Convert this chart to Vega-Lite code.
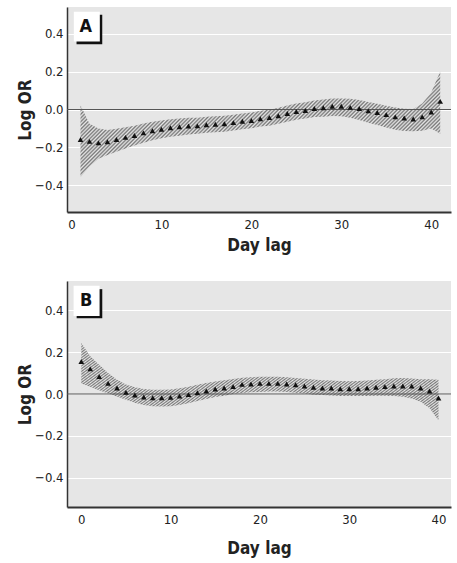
{
  "$schema": "https://vega.github.io/schema/vega-lite/v6.json",
  "background": "white",
  "padding": {"left": 16, "top": 7, "right": 6, "bottom": 6},
  "config": {
    "font": "DejaVu Sans Condensed, sans-serif",
    "view": {"fill": "#e6e6e6", "stroke": null},
    "axis": {"labelFontSize": 13, "labelColor": "#222", "titleFontSize": 17, "titleFontWeight": "bold", "titleColor": "#222", "ticks": false, "domainColor": "#333"},
    "axisX": {"grid": false, "domainWidth": 2, "labelPadding": 6, "titlePadding": 6},
    "axisY": {"grid": true, "gridColor": "white", "gridWidth": 1.2, "domainWidth": 1.5, "labelPadding": 4, "titlePadding": 0},
    "concat": {"spacing": 28},
    "mark": {
      "color": {
          "gradient": "linear", "x1": 0, "y1": 0, "x2": 1.19, "y2": 0.347,
          "stops": [
            {"offset":0,"color":"#e6e6e6"},{"offset":0.004,"color":"#777"},{"offset":0.008,"color":"#e6e6e6"},{"offset":0.012,"color":"#777"},{"offset":0.016,"color":"#e6e6e6"},{"offset":0.02,"color":"#777"},{"offset":0.024,"color":"#e6e6e6"},{"offset":0.028,"color":"#777"},{"offset":0.032,"color":"#e6e6e6"},{"offset":0.036,"color":"#777"},{"offset":0.04,"color":"#e6e6e6"},{"offset":0.044,"color":"#777"},{"offset":0.048,"color":"#e6e6e6"},{"offset":0.052,"color":"#777"},{"offset":0.056,"color":"#e6e6e6"},{"offset":0.06,"color":"#777"},{"offset":0.064,"color":"#e6e6e6"},{"offset":0.068,"color":"#777"},{"offset":0.072,"color":"#e6e6e6"},{"offset":0.076,"color":"#777"},{"offset":0.08,"color":"#e6e6e6"},{"offset":0.084,"color":"#777"},{"offset":0.088,"color":"#e6e6e6"},{"offset":0.092,"color":"#777"},{"offset":0.096,"color":"#e6e6e6"},
            {"offset":0.1,"color":"#777"},{"offset":0.104,"color":"#e6e6e6"},{"offset":0.108,"color":"#777"},{"offset":0.112,"color":"#e6e6e6"},{"offset":0.116,"color":"#777"},{"offset":0.12,"color":"#e6e6e6"},{"offset":0.124,"color":"#777"},{"offset":0.128,"color":"#e6e6e6"},{"offset":0.132,"color":"#777"},{"offset":0.136,"color":"#e6e6e6"},{"offset":0.14,"color":"#777"},{"offset":0.144,"color":"#e6e6e6"},{"offset":0.148,"color":"#777"},{"offset":0.152,"color":"#e6e6e6"},{"offset":0.156,"color":"#777"},{"offset":0.16,"color":"#e6e6e6"},{"offset":0.164,"color":"#777"},{"offset":0.168,"color":"#e6e6e6"},{"offset":0.172,"color":"#777"},{"offset":0.176,"color":"#e6e6e6"},{"offset":0.18,"color":"#777"},{"offset":0.184,"color":"#e6e6e6"},{"offset":0.188,"color":"#777"},{"offset":0.192,"color":"#e6e6e6"},{"offset":0.196,"color":"#777"},
            {"offset":0.2,"color":"#e6e6e6"},{"offset":0.204,"color":"#777"},{"offset":0.208,"color":"#e6e6e6"},{"offset":0.212,"color":"#777"},{"offset":0.216,"color":"#e6e6e6"},{"offset":0.22,"color":"#777"},{"offset":0.224,"color":"#e6e6e6"},{"offset":0.228,"color":"#777"},{"offset":0.232,"color":"#e6e6e6"},{"offset":0.236,"color":"#777"},{"offset":0.24,"color":"#e6e6e6"},{"offset":0.244,"color":"#777"},{"offset":0.248,"color":"#e6e6e6"},{"offset":0.252,"color":"#777"},{"offset":0.256,"color":"#e6e6e6"},{"offset":0.26,"color":"#777"},{"offset":0.264,"color":"#e6e6e6"},{"offset":0.268,"color":"#777"},{"offset":0.272,"color":"#e6e6e6"},{"offset":0.276,"color":"#777"},{"offset":0.28,"color":"#e6e6e6"},{"offset":0.284,"color":"#777"},{"offset":0.288,"color":"#e6e6e6"},{"offset":0.292,"color":"#777"},{"offset":0.296,"color":"#e6e6e6"},
            {"offset":0.3,"color":"#777"},{"offset":0.304,"color":"#e6e6e6"},{"offset":0.308,"color":"#777"},{"offset":0.312,"color":"#e6e6e6"},{"offset":0.316,"color":"#777"},{"offset":0.32,"color":"#e6e6e6"},{"offset":0.324,"color":"#777"},{"offset":0.328,"color":"#e6e6e6"},{"offset":0.332,"color":"#777"},{"offset":0.336,"color":"#e6e6e6"},{"offset":0.34,"color":"#777"},{"offset":0.344,"color":"#e6e6e6"},{"offset":0.348,"color":"#777"},{"offset":0.352,"color":"#e6e6e6"},{"offset":0.356,"color":"#777"},{"offset":0.36,"color":"#e6e6e6"},{"offset":0.364,"color":"#777"},{"offset":0.368,"color":"#e6e6e6"},{"offset":0.372,"color":"#777"},{"offset":0.376,"color":"#e6e6e6"},{"offset":0.38,"color":"#777"},{"offset":0.384,"color":"#e6e6e6"},{"offset":0.388,"color":"#777"},{"offset":0.392,"color":"#e6e6e6"},{"offset":0.396,"color":"#777"},
            {"offset":0.4,"color":"#e6e6e6"},{"offset":0.404,"color":"#777"},{"offset":0.408,"color":"#e6e6e6"},{"offset":0.412,"color":"#777"},{"offset":0.416,"color":"#e6e6e6"},{"offset":0.42,"color":"#777"},{"offset":0.424,"color":"#e6e6e6"},{"offset":0.428,"color":"#777"},{"offset":0.432,"color":"#e6e6e6"},{"offset":0.436,"color":"#777"},{"offset":0.44,"color":"#e6e6e6"},{"offset":0.444,"color":"#777"},{"offset":0.448,"color":"#e6e6e6"},{"offset":0.452,"color":"#777"},{"offset":0.456,"color":"#e6e6e6"},{"offset":0.46,"color":"#777"},{"offset":0.464,"color":"#e6e6e6"},{"offset":0.468,"color":"#777"},{"offset":0.472,"color":"#e6e6e6"},{"offset":0.476,"color":"#777"},{"offset":0.48,"color":"#e6e6e6"},{"offset":0.484,"color":"#777"},{"offset":0.488,"color":"#e6e6e6"},{"offset":0.492,"color":"#777"},{"offset":0.496,"color":"#e6e6e6"},
            {"offset":0.5,"color":"#777"},{"offset":0.504,"color":"#e6e6e6"},{"offset":0.508,"color":"#777"},{"offset":0.512,"color":"#e6e6e6"},{"offset":0.516,"color":"#777"},{"offset":0.52,"color":"#e6e6e6"},{"offset":0.524,"color":"#777"},{"offset":0.528,"color":"#e6e6e6"},{"offset":0.532,"color":"#777"},{"offset":0.536,"color":"#e6e6e6"},{"offset":0.54,"color":"#777"},{"offset":0.544,"color":"#e6e6e6"},{"offset":0.548,"color":"#777"},{"offset":0.552,"color":"#e6e6e6"},{"offset":0.556,"color":"#777"},{"offset":0.56,"color":"#e6e6e6"},{"offset":0.564,"color":"#777"},{"offset":0.568,"color":"#e6e6e6"},{"offset":0.572,"color":"#777"},{"offset":0.576,"color":"#e6e6e6"},{"offset":0.58,"color":"#777"},{"offset":0.584,"color":"#e6e6e6"},{"offset":0.588,"color":"#777"},{"offset":0.592,"color":"#e6e6e6"},{"offset":0.596,"color":"#777"},
            {"offset":0.6,"color":"#e6e6e6"},{"offset":0.604,"color":"#777"},{"offset":0.608,"color":"#e6e6e6"},{"offset":0.612,"color":"#777"},{"offset":0.616,"color":"#e6e6e6"},{"offset":0.62,"color":"#777"},{"offset":0.624,"color":"#e6e6e6"},{"offset":0.628,"color":"#777"},{"offset":0.632,"color":"#e6e6e6"},{"offset":0.636,"color":"#777"},{"offset":0.64,"color":"#e6e6e6"},{"offset":0.644,"color":"#777"},{"offset":0.648,"color":"#e6e6e6"},{"offset":0.652,"color":"#777"},{"offset":0.656,"color":"#e6e6e6"},{"offset":0.66,"color":"#777"},{"offset":0.664,"color":"#e6e6e6"},{"offset":0.668,"color":"#777"},{"offset":0.672,"color":"#e6e6e6"},{"offset":0.676,"color":"#777"},{"offset":0.68,"color":"#e6e6e6"},{"offset":0.684,"color":"#777"},{"offset":0.688,"color":"#e6e6e6"},{"offset":0.692,"color":"#777"},{"offset":0.696,"color":"#e6e6e6"},
            {"offset":0.7,"color":"#777"},{"offset":0.704,"color":"#e6e6e6"},{"offset":0.708,"color":"#777"},{"offset":0.712,"color":"#e6e6e6"},{"offset":0.716,"color":"#777"},{"offset":0.72,"color":"#e6e6e6"},{"offset":0.724,"color":"#777"},{"offset":0.728,"color":"#e6e6e6"},{"offset":0.732,"color":"#777"},{"offset":0.736,"color":"#e6e6e6"},{"offset":0.74,"color":"#777"},{"offset":0.744,"color":"#e6e6e6"},{"offset":0.748,"color":"#777"},{"offset":0.752,"color":"#e6e6e6"},{"offset":0.756,"color":"#777"},{"offset":0.76,"color":"#e6e6e6"},{"offset":0.764,"color":"#777"},{"offset":0.768,"color":"#e6e6e6"},{"offset":0.772,"color":"#777"},{"offset":0.776,"color":"#e6e6e6"},{"offset":0.78,"color":"#777"},{"offset":0.784,"color":"#e6e6e6"},{"offset":0.788,"color":"#777"},{"offset":0.792,"color":"#e6e6e6"},{"offset":0.796,"color":"#777"},
            {"offset":0.8,"color":"#e6e6e6"},{"offset":0.804,"color":"#777"},{"offset":0.808,"color":"#e6e6e6"},{"offset":0.812,"color":"#777"},{"offset":0.816,"color":"#e6e6e6"},{"offset":0.82,"color":"#777"},{"offset":0.824,"color":"#e6e6e6"},{"offset":0.828,"color":"#777"},{"offset":0.832,"color":"#e6e6e6"},{"offset":0.836,"color":"#777"},{"offset":0.84,"color":"#e6e6e6"},{"offset":0.844,"color":"#777"},{"offset":0.848,"color":"#e6e6e6"},{"offset":0.852,"color":"#777"},{"offset":0.856,"color":"#e6e6e6"},{"offset":0.86,"color":"#777"},{"offset":0.864,"color":"#e6e6e6"},{"offset":0.868,"color":"#777"},{"offset":0.872,"color":"#e6e6e6"},{"offset":0.876,"color":"#777"},{"offset":0.88,"color":"#e6e6e6"},{"offset":0.884,"color":"#777"},{"offset":0.888,"color":"#e6e6e6"},{"offset":0.892,"color":"#777"},{"offset":0.896,"color":"#e6e6e6"},
            {"offset":0.9,"color":"#777"},{"offset":0.904,"color":"#e6e6e6"},{"offset":0.908,"color":"#777"},{"offset":0.912,"color":"#e6e6e6"},{"offset":0.916,"color":"#777"},{"offset":0.92,"color":"#e6e6e6"},{"offset":0.924,"color":"#777"},{"offset":0.928,"color":"#e6e6e6"},{"offset":0.932,"color":"#777"},{"offset":0.936,"color":"#e6e6e6"},{"offset":0.94,"color":"#777"},{"offset":0.944,"color":"#e6e6e6"},{"offset":0.948,"color":"#777"},{"offset":0.952,"color":"#e6e6e6"},{"offset":0.956,"color":"#777"},{"offset":0.96,"color":"#e6e6e6"},{"offset":0.964,"color":"#777"},{"offset":0.968,"color":"#e6e6e6"},{"offset":0.972,"color":"#777"},{"offset":0.976,"color":"#e6e6e6"},{"offset":0.98,"color":"#777"},{"offset":0.984,"color":"#e6e6e6"},{"offset":0.988,"color":"#777"},{"offset":0.992,"color":"#e6e6e6"},{"offset":0.996,"color":"#777"},
            {"offset":1,"color":"#e6e6e6"}
          ]
      }
    }
  },
  "datasets": {
    "a": [
      {"day": 1, "est": -0.158, "lo": -0.355, "hi": 0.022},
      {"day": 2, "est": -0.168, "lo": -0.3, "hi": -0.075},
      {"day": 3, "est": -0.176, "lo": -0.26, "hi": -0.1},
      {"day": 4, "est": -0.17, "lo": -0.24, "hi": -0.108},
      {"day": 5, "est": -0.158, "lo": -0.222, "hi": -0.102},
      {"day": 6, "est": -0.147, "lo": -0.205, "hi": -0.094},
      {"day": 7, "est": -0.137, "lo": -0.19, "hi": -0.086},
      {"day": 8, "est": -0.123, "lo": -0.175, "hi": -0.074},
      {"day": 9, "est": -0.112, "lo": -0.162, "hi": -0.064},
      {"day": 10, "est": -0.104, "lo": -0.152, "hi": -0.058},
      {"day": 11, "est": -0.096, "lo": -0.144, "hi": -0.052},
      {"day": 12, "est": -0.091, "lo": -0.138, "hi": -0.047},
      {"day": 13, "est": -0.087, "lo": -0.132, "hi": -0.044},
      {"day": 14, "est": -0.086, "lo": -0.128, "hi": -0.043},
      {"day": 15, "est": -0.08, "lo": -0.122, "hi": -0.038},
      {"day": 16, "est": -0.078, "lo": -0.12, "hi": -0.036},
      {"day": 17, "est": -0.075, "lo": -0.117, "hi": -0.033},
      {"day": 18, "est": -0.069, "lo": -0.111, "hi": -0.027},
      {"day": 19, "est": -0.062, "lo": -0.104, "hi": -0.021},
      {"day": 20, "est": -0.058, "lo": -0.099, "hi": -0.016},
      {"day": 21, "est": -0.049, "lo": -0.09, "hi": -0.007},
      {"day": 22, "est": -0.043, "lo": -0.085, "hi": -0.001},
      {"day": 23, "est": -0.033, "lo": -0.075, "hi": 0.009},
      {"day": 24, "est": -0.021, "lo": -0.064, "hi": 0.021},
      {"day": 25, "est": -0.011, "lo": -0.054, "hi": 0.031},
      {"day": 26, "est": -0.005, "lo": -0.048, "hi": 0.038},
      {"day": 27, "est": 0.005, "lo": -0.04, "hi": 0.048},
      {"day": 28, "est": 0.009, "lo": -0.038, "hi": 0.053},
      {"day": 29, "est": 0.017, "lo": -0.034, "hi": 0.058},
      {"day": 30, "est": 0.017, "lo": -0.035, "hi": 0.058},
      {"day": 31, "est": 0.011, "lo": -0.044, "hi": 0.056},
      {"day": 32, "est": 0.005, "lo": -0.055, "hi": 0.05},
      {"day": 33, "est": -0.007, "lo": -0.07, "hi": 0.04},
      {"day": 34, "est": -0.016, "lo": -0.082, "hi": 0.03},
      {"day": 35, "est": -0.027, "lo": -0.095, "hi": 0.02},
      {"day": 36, "est": -0.039, "lo": -0.107, "hi": 0.01},
      {"day": 37, "est": -0.045, "lo": -0.113, "hi": 0.004},
      {"day": 38, "est": -0.05, "lo": -0.115, "hi": 0.002},
      {"day": 39, "est": -0.039, "lo": -0.112, "hi": 0.032},
      {"day": 40, "est": -0.013, "lo": -0.1, "hi": 0.09},
      {"day": 41, "est": 0.043, "lo": -0.128, "hi": 0.2}
    ],
    "b": [
      {"day": 0, "est": 0.155, "lo": 0.05, "hi": 0.245},
      {"day": 1, "est": 0.12, "lo": 0.035, "hi": 0.18},
      {"day": 2, "est": 0.083, "lo": 0.018, "hi": 0.14},
      {"day": 3, "est": 0.051, "lo": 0.002, "hi": 0.1},
      {"day": 4, "est": 0.029, "lo": -0.012, "hi": 0.068},
      {"day": 5, "est": 0.008, "lo": -0.028, "hi": 0.045},
      {"day": 6, "est": -0.005, "lo": -0.042, "hi": 0.032},
      {"day": 7, "est": -0.014, "lo": -0.052, "hi": 0.024},
      {"day": 8, "est": -0.018, "lo": -0.058, "hi": 0.02},
      {"day": 9, "est": -0.018, "lo": -0.06, "hi": 0.02},
      {"day": 10, "est": -0.016, "lo": -0.058, "hi": 0.022},
      {"day": 11, "est": -0.01, "lo": -0.052, "hi": 0.028},
      {"day": 12, "est": -0.003, "lo": -0.044, "hi": 0.035},
      {"day": 13, "est": 0.006, "lo": -0.034, "hi": 0.044},
      {"day": 14, "est": 0.014, "lo": -0.024, "hi": 0.052},
      {"day": 15, "est": 0.024, "lo": -0.014, "hi": 0.06},
      {"day": 16, "est": 0.029, "lo": -0.008, "hi": 0.066},
      {"day": 17, "est": 0.035, "lo": 0.0, "hi": 0.072},
      {"day": 18, "est": 0.046, "lo": 0.005, "hi": 0.078},
      {"day": 19, "est": 0.048, "lo": 0.008, "hi": 0.08},
      {"day": 20, "est": 0.051, "lo": 0.01, "hi": 0.083},
      {"day": 21, "est": 0.051, "lo": 0.012, "hi": 0.083},
      {"day": 22, "est": 0.051, "lo": 0.012, "hi": 0.082},
      {"day": 23, "est": 0.048, "lo": 0.01, "hi": 0.08},
      {"day": 24, "est": 0.044, "lo": 0.006, "hi": 0.077},
      {"day": 25, "est": 0.038, "lo": 0.002, "hi": 0.073},
      {"day": 26, "est": 0.032, "lo": -0.003, "hi": 0.069},
      {"day": 27, "est": 0.029, "lo": -0.005, "hi": 0.066},
      {"day": 28, "est": 0.029, "lo": -0.007, "hi": 0.064},
      {"day": 29, "est": 0.025, "lo": -0.009, "hi": 0.062},
      {"day": 30, "est": 0.025, "lo": -0.01, "hi": 0.061},
      {"day": 31, "est": 0.025, "lo": -0.01, "hi": 0.062},
      {"day": 32, "est": 0.029, "lo": -0.009, "hi": 0.064},
      {"day": 33, "est": 0.032, "lo": -0.008, "hi": 0.068},
      {"day": 34, "est": 0.035, "lo": -0.008, "hi": 0.071},
      {"day": 35, "est": 0.038, "lo": -0.01, "hi": 0.075},
      {"day": 36, "est": 0.038, "lo": -0.013, "hi": 0.076},
      {"day": 37, "est": 0.038, "lo": -0.021, "hi": 0.074},
      {"day": 38, "est": 0.029, "lo": -0.037, "hi": 0.07},
      {"day": 39, "est": 0.014, "lo": -0.068, "hi": 0.07},
      {"day": 40, "est": -0.019, "lo": -0.125, "hi": 0.068}
    ]
  },
  "vconcat": [
    {
      "width": 384,
      "height": 205,
      "layer": [
        {
          "data": {"name": "a"},
          "mark": {"type": "area", "opacity": 1},
          "encoding": {
            "x": {"field": "day", "type": "quantitative", "scale": {"domain": [-0.5, 42.2], "nice": false, "zero": false}, "axis": {"values": [0, 10, 20, 30, 40], "title": "Day lag"}},
            "y": {"field": "lo", "type": "quantitative", "scale": {"domain": [-0.54, 0.54], "nice": false}, "axis": {"values": [-0.4, -0.2, 0, 0.2, 0.4], "format": ".1f", "title": "Log OR"}},
            "y2": {"field": "hi"}
          }
        },
        {
          "data": {"values": [{}]},
          "mark": {"type": "rule", "color": "#555", "strokeWidth": 1},
          "encoding": {"y": {"datum": 0}}
        },
        {
          "data": {"name": "a"},
          "mark": {"type": "point", "shape": "triangle-up", "filled": true, "color": "#111", "size": 32, "opacity": 1},
          "encoding": {
            "x": {"field": "day", "type": "quantitative"},
            "y": {"field": "est", "type": "quantitative"}
          }
        },
        {
          "data": {"values": [{}]},
          "mark": {"type": "rect", "color": "#111"},
          "encoding": {"x": {"datum": 0.56}, "x2": {"datum": 3.42}, "y": {"datum": 0.499}, "y2": {"datum": 0.344}}
        },
        {
          "data": {"values": [{}]},
          "mark": {"type": "rect", "color": "white"},
          "encoding": {"x": {"datum": 0.26}, "x2": {"datum": 3.15}, "y": {"datum": 0.515}, "y2": {"datum": 0.358}}
        },
        {
          "data": {"values": [{}]},
          "mark": {"type": "text", "fontSize": 18, "fontWeight": "bold", "color": "#111", "align": "center", "baseline": "middle"},
          "encoding": {"x": {"datum": 1.6}, "y": {"datum": 0.435}, "text": {"value": "A"}}
        }
      ]
    },
    {
      "width": 384,
      "height": 226,
      "layer": [
        {
          "data": {"name": "b"},
          "mark": {"type": "area", "opacity": 1},
          "encoding": {
            "x": {"field": "day", "type": "quantitative", "scale": {"domain": [-1.6, 41.4], "nice": false, "zero": false}, "axis": {"values": [0, 10, 20, 30, 40], "title": "Day lag", "titlePadding": 14}},
            "y": {"field": "lo", "type": "quantitative", "scale": {"domain": [-0.54, 0.54], "nice": false}, "axis": {"values": [-0.4, -0.2, 0, 0.2, 0.4], "format": ".1f", "title": "Log OR"}},
            "y2": {"field": "hi"}
          }
        },
        {
          "data": {"values": [{}]},
          "mark": {"type": "rule", "color": "#555", "strokeWidth": 1},
          "encoding": {"y": {"datum": 0}}
        },
        {
          "data": {"name": "b"},
          "mark": {"type": "point", "shape": "triangle-up", "filled": true, "color": "#111", "size": 32, "opacity": 1},
          "encoding": {
            "x": {"field": "day", "type": "quantitative"},
            "y": {"field": "est", "type": "quantitative"}
          }
        },
        {
          "data": {"values": [{}]},
          "mark": {"type": "rect", "color": "#111"},
          "encoding": {"x": {"datum": -0.52}, "x2": {"datum": 2.35}, "y": {"datum": 0.501}, "y2": {"datum": 0.362}}
        },
        {
          "data": {"values": [{}]},
          "mark": {"type": "rect", "color": "white"},
          "encoding": {"x": {"datum": -0.86}, "x2": {"datum": 2.05}, "y": {"datum": 0.517}, "y2": {"datum": 0.373}}
        },
        {
          "data": {"values": [{}]},
          "mark": {"type": "text", "fontSize": 18, "fontWeight": "bold", "color": "#111", "align": "center", "baseline": "middle"},
          "encoding": {"x": {"datum": 0.56}, "y": {"datum": 0.444}, "text": {"value": "B"}}
        }
      ]
    }
  ]
}
